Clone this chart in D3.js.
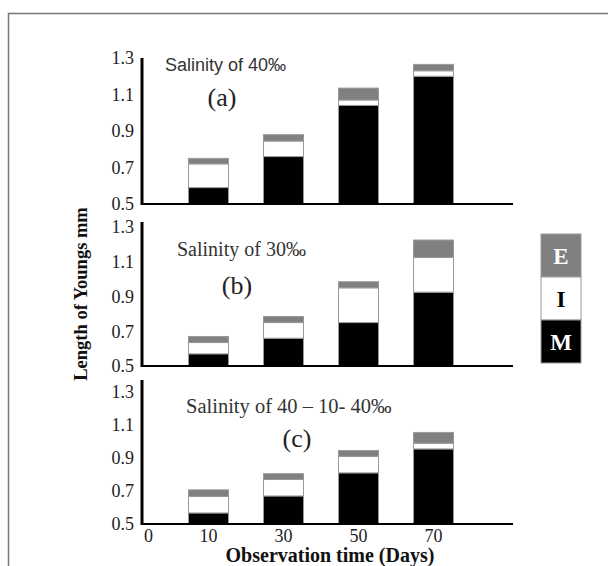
<!DOCTYPE html>
<meta charset="utf-8">
<head>
    <title></title>
    <script src="https://cdn.jsdelivr.net/npm/d3@7/dist/d3.min.js"></script>
</head>

<style>
    body{
      margin:0;
      background:#fff;
    }
    text{
      font-family: "Liberation Serif", "Times New Roman", serif;
      fill:#222;
    }
</style>
<svg width="608" height="566"></svg>

<script>
    // categories
    var days = ['0', '10', '30', '50', '70'];
    var barDays = ['10', '30', '50', '70'];
    var yTicks = [0.5, 0.7, 0.9, 1.1, 1.3];
    var layers = ['M', 'I', 'E'];
    var legendKeys = ['E', 'I', 'M'];

    // segment lengths (mm), stacked: M, then I, then E on top
    var mA = [0.59, 0.76, 1.04, 1.20],
        iA = [0.13, 0.085, 0.03, 0.03],
        eA = [0.03, 0.035, 0.065, 0.035];

    var mB = [0.57, 0.66, 0.75, 0.925],
        iB = [0.065, 0.09, 0.20, 0.20],
        eB = [0.035, 0.035, 0.035, 0.10];

    var mC = [0.567, 0.67, 0.81, 0.955],
        iC = [0.10, 0.10, 0.10, 0.035],
        eC = [0.04, 0.035, 0.035, 0.065];

    var titles = ['Salinity of 40‰', 'Salinity of 30‰', 'Salinity of 40 – 10- 40‰'];
    var letters = ['(a)', '(b)', '(c)'];

    var colors = {E: '#808080', I: '#ffffff', M: '#000000'};
    var textColors = {E: '#ffffff', I: '#000000', M: '#ffffff'};

    var svg = d3.select('svg');

    // frame
    svg.append('path')
        .attr('d', 'M8.5,566V13.5H608')
        .style('fill', 'none')
        .style('stroke', '#777')
        .style('stroke-width', 1.5);

    var x = d3.scaleBand().domain(days).range([96, 471])
        .paddingInner(0.467).paddingOuter(0.233);

    var panels = [
        {m: mA, i: iA, e: eA, top: 58, bottom: 204, axisTop: 58,
         title: {x: 165, y: 71, font: '"Liberation Sans", Arial, sans-serif', size: 18},
         letter: {x: 222, y: 106}},
        {m: mB, i: iB, e: eB, top: 227, bottom: 366, axisTop: 222,
         title: {x: 177, y: 256, font: '"Liberation Serif", serif', size: 20},
         letter: {x: 237, y: 294}},
        {m: mC, i: iC, e: eC, top: 392, bottom: 524, axisTop: 380,
         title: {x: 186, y: 413, font: '"Liberation Serif", serif', size: 20.5},
         letter: {x: 297, y: 447}}
    ];

    panels.forEach(function(p, k){
        var g = svg.append('g');
        var y = d3.scaleLinear().domain([0.5, 1.3]).range([p.bottom, p.top]).clamp(true);

        var rows = barDays.map(function(d, i){
            return {day: d, M: p.m[i], I: p.i[i], E: p.e[i]};
        });
        var series = d3.stack().keys(layers)(rows);

        g.selectAll('g.layer').data(series).enter().append('g')
            .attr('class', 'layer')
            .style('fill', function(s){ return colors[s.key]; })
            .selectAll('rect').data(function(s){ return s; }).enter().append('rect')
            .attr('x', function(d){ return x(d.data.day); })
            .attr('width', x.bandwidth())
            .attr('y', function(d){ return y(d[1]); })
            .attr('height', function(d){ return y(d[0]) - y(d[1]); })
            .style('stroke', '#999')
            .style('stroke-width', 1);

        // y axis
        var ya = g.append('g')
            .attr('transform', 'translate(142,0)')
            .call(d3.axisLeft(y).tickValues(yTicks).tickSize(0).tickPadding(8)
                .tickFormat(d3.format('.1f')));
        ya.select('.domain').remove();
        ya.selectAll('text')
            .style('font-size', '18px')
            .style('fill', '#222')
            .style('font-family', '"Liberation Serif", serif');

        g.append('line')
            .attr('x1', 142).attr('x2', 142)
            .attr('y1', p.axisTop).attr('y2', p.bottom + 1)
            .style('stroke', '#000').style('stroke-width', 3);
        g.append('line')
            .attr('x1', 142).attr('x2', 513)
            .attr('y1', p.bottom).attr('y2', p.bottom)
            .style('stroke', '#000').style('stroke-width', 2.2);

        g.append('text')
            .attr('x', p.title.x).attr('y', p.title.y)
            .style('font-family', p.title.font)
            .style('font-size', p.title.size + 'px')
            .style('fill', '#333')
            .text(titles[k]);

        g.append('text')
            .attr('x', p.letter.x).attr('y', p.letter.y)
            .attr('text-anchor', 'middle')
            .style('font-size', '26px')
            .style('fill', '#222')
            .text(letters[k]);

        if(k == 2){
            var xa = g.append('g')
                .attr('transform', 'translate(0,' + (p.bottom + 3) + ')')
                .call(d3.axisBottom(x).tickSize(0).tickPadding(2));
            xa.select('.domain').remove();
            xa.selectAll('text')
                .style('font-size', '18px')
                .style('fill', '#222')
                .style('font-family', '"Liberation Serif", serif')
                .attr('dx', function(d){ return d == '0' ? 15 : 0; });
        }
    });

    // axis titles
    svg.append('text')
        .attr('x', 330).attr('y', 562)
        .attr('text-anchor', 'middle')
        .style('font-size', '20px')
        .style('font-weight', 'bold')
        .style('fill', '#111')
        .text('Observation time (Days)');

    svg.append('text')
        .attr('transform', 'translate(87,294) rotate(-90)')
        .attr('text-anchor', 'middle')
        .style('font-size', '18.5px')
        .style('font-weight', 'bold')
        .style('fill', '#111')
        .text('Length of Youngs mm');

    // legend
    var ly = d3.scaleBand().domain(legendKeys).range([234, 363]);
    var lg = svg.append('g').selectAll('g').data(legendKeys).enter().append('g');
    lg.append('rect')
        .attr('x', 541).attr('width', 40)
        .attr('y', function(d){ return ly(d); })
        .attr('height', ly.bandwidth())
        .style('fill', function(d){ return colors[d]; })
        .style('stroke', '#999')
        .style('stroke-width', 1);
    lg.append('text')
        .attr('x', 561)
        .attr('y', function(d){ return ly(d) + ly.bandwidth() / 2 + 8; })
        .attr('text-anchor', 'middle')
        .style('font-size', '23px')
        .style('font-weight', 'bold')
        .style('fill', function(d){ return textColors[d]; })
        .text(function(d){ return d; });
</script>
